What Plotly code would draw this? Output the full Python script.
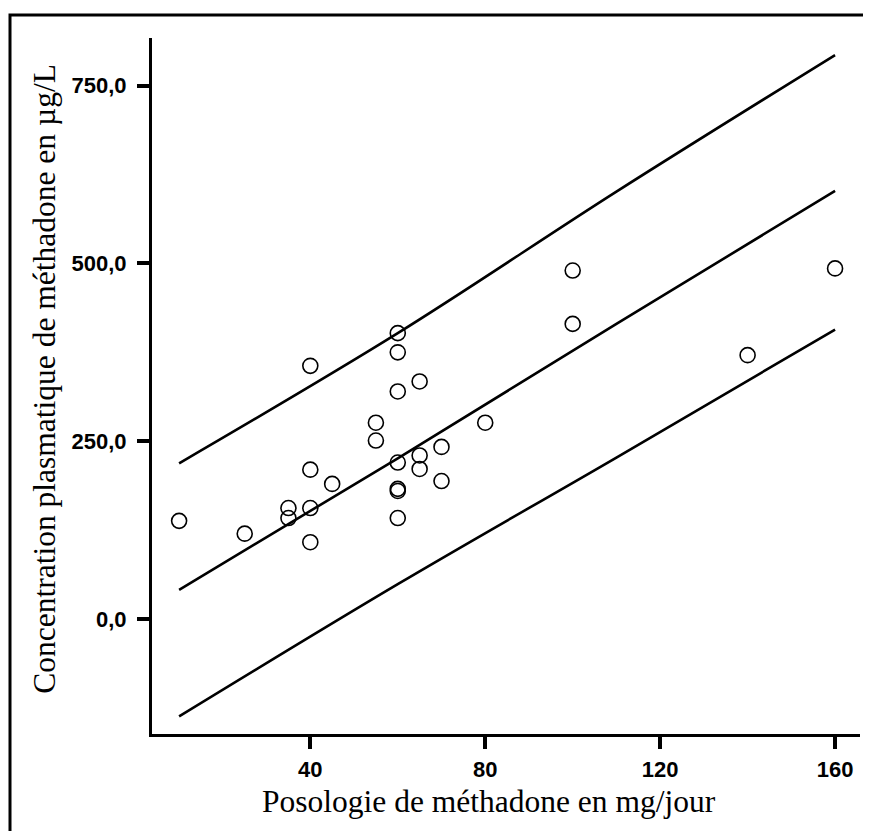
import plotly.graph_objects as go

# Scatter data: daily methadone dose (mg/day) vs plasma concentration (µg/L)
dose = [10, 25, 35, 35, 40, 40, 40, 40, 45, 55, 55, 60, 60, 60, 60, 60, 60, 60,
        65, 65, 65, 70, 70, 80, 100, 100, 140, 160]
conc = [138, 120, 156, 142, 356, 210, 156, 108, 190, 276, 251, 402, 375, 320,
        220, 183, 180, 142, 334, 230, 211, 242, 194, 276, 490, 415, 371, 493]

# Regression line and prediction bands, read at a few doses
fit_dose = [10, 60, 110, 160]
fit_mid = [41, 226, 415, 602]
fit_upper = [219, 402, 601, 793]
fit_lower = [-137, 49, 227, 407]

x_ticks = [40, 80, 120, 160]
y_ticks = [0, 250, 500, 750]

x_title = "Posologie de méthadone en mg/jour"
y_title = "Concentration plasmatique de méthadone en µg/L"

fig = go.Figure()
for band in (fit_upper, fit_mid, fit_lower):
    fig.add_trace(go.Scatter(x=fit_dose, y=band, mode="lines",
                             line=dict(color="black", width=2.6, shape="spline"),
                             hoverinfo="skip", showlegend=False))
fig.add_trace(go.Scatter(x=dose, y=conc, mode="markers",
                         marker=dict(symbol="circle-open", size=15,
                                     color="black", line=dict(width=1.6, color="black")),
                         showlegend=False))

tick_font = dict(family="Liberation Sans, Arial, sans-serif", size=22,
                 color="black", weight="bold")
title_font = dict(family="Liberation Serif, Times New Roman, serif", size=31.5, color="black")

# figure is placed 8 px from the page corner by the page's body margin
W, H = 863, 823
L, R, T, B = 144, 11, 30, 97
pw, ph = W - L - R, H - T - B

fig.update_layout(
    width=W, height=H,
    margin=dict(l=L, r=R, t=T, b=B),
    paper_bgcolor="white", plot_bgcolor="white",
    separators=", ",
    xaxis=dict(range=[3.8, 165.7], tickvals=x_ticks, ticks="outside", ticklen=12,
               tickwidth=4, tickcolor="black", showline=True, linecolor="black",
               linewidth=3, showgrid=False, zeroline=False, tickfont=tick_font,
               ticklabelstandoff=2),
    yaxis=dict(range=[-161.7, 817], tickvals=y_ticks, tickformat=".1f", ticks="outside",
               ticklen=12, tickwidth=4, tickcolor="black", showline=True,
               linecolor="black", linewidth=3, showgrid=False, zeroline=False,
               tickfont=tick_font, ticklabelstandoff=6),
    annotations=[
        dict(text=x_title, xref="paper", yref="paper", x=0.476, y=-0.097,
             showarrow=False, font=title_font, xanchor="center", yanchor="middle"),
        dict(text=y_title, xref="paper", yref="paper", x=-0.153, y=0.51,
             showarrow=False, font=title_font, textangle=-90,
             xanchor="center", yanchor="middle"),
    ],
    shapes=[dict(type="rect", xref="paper", yref="paper",
                 x0=(2 - L) / pw, x1=(859 - L) / pw,
                 y0=-(B + 40) / ph, y1=(ph + T - 7) / ph,
                 line=dict(color="black", width=3), fillcolor="rgba(0,0,0,0)",
                 layer="below")],
)

fig.write_html("out.html")
